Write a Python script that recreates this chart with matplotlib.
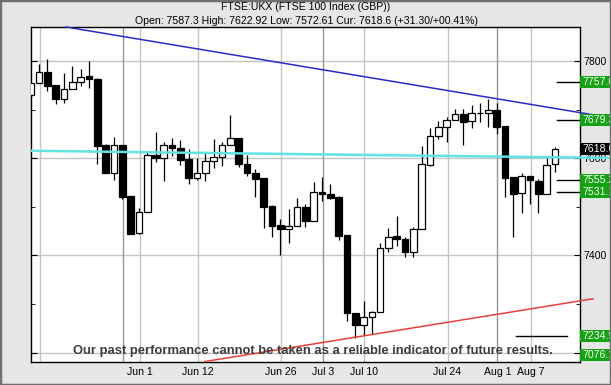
import matplotlib
matplotlib.use("Agg")
import matplotlib.pyplot as plt
from matplotlib.patches import Rectangle
from matplotlib.transforms import blended_transform_factory

plt.rcParams['font.family'] = ['Liberation Sans', 'DejaVu Sans']

# ---------------- data ----------------
opens = [7730, 7754, 7777, 7751, 7721, 7742, 7756, 7769, 7763, 7627, 7569, 7627, 7522, 7446, 7489, 7607,
         7600, 7627, 7622, 7598, 7560, 7569, 7594, 7603, 7627, 7641, 7588, 7570, 7559, 7502, 7463, 7454,
         7461, 7499, 7470, 7530, 7526, 7521, 7442, 7281, 7256, 7273, 7283, 7415, 7440, 7433, 7407, 7454,
         7586, 7646, 7664, 7679, 7690, 7676, 7692, 7692, 7699, 7666, 7561, 7528, 7564, 7554, 7526, 7587.3]
highs = [7757, 7794, 7804, 7751, 7775, 7790, 7783, 7800, 7765, 7629, 7643, 7628, 7523, 7497, 7614, 7653,
         7634, 7642, 7637, 7620, 7600, 7610, 7640, 7633, 7688, 7642, 7607, 7577, 7560, 7503, 7476, 7496,
         7518, 7506, 7552, 7562, 7547, 7522, 7443, 7282, 7306, 7286, 7425, 7456, 7481, 7437, 7459, 7625,
         7663, 7677, 7684, 7701, 7701, 7710, 7713, 7722, 7714, 7667, 7562, 7569, 7564, 7557, 7600, 7622.92]
lows = [7725, 7754, 7739, 7711, 7714, 7742, 7749, 7745, 7588, 7569, 7555, 7516, 7444, 7445, 7489, 7593,
        7553, 7605, 7586, 7546, 7555, 7553, 7580, 7583, 7627, 7581, 7564, 7520, 7457, 7439, 7401, 7426,
        7461, 7459, 7470, 7513, 7516, 7432, 7266, 7230, 7236, 7238, 7283, 7408, 7420, 7396, 7397, 7454,
        7584, 7639, 7633, 7679, 7627, 7662, 7675, 7665, 7649, 7521, 7437, 7487, 7505, 7487, 7526, 7572.61]
closes = [7754, 7777, 7749, 7721, 7742, 7756, 7768, 7762, 7626, 7569, 7627, 7521, 7444, 7489, 7607, 7600,
          7627, 7622, 7596, 7560, 7569, 7594, 7603, 7627, 7641, 7588, 7569, 7557, 7500, 7461, 7454, 7461,
          7499, 7470, 7530, 7526, 7519, 7440, 7281, 7256, 7273, 7283, 7415, 7439, 7433, 7407, 7454, 7588,
          7646, 7664, 7679, 7690, 7675, 7692, 7693, 7699, 7665, 7560, 7526, 7564, 7555, 7526, 7586, 7618.6]

date_labels = ["Jun 1", "Jun 12", "Jun 26", "Jul 3", "Jul 10", "Jul 24", "Aug 1", "Aug 7"]
date_index = [13, 20, 30, 35, 40, 50, 56, 60]
extra_grid_index = [1, 11]
dark_grid_index = [11, 35, 56]

y_ticks = [7200, 7400, 7600, 7800]
y_tick_labels = ["", "7400", "7600", "7800"]

# trend lines (index, price)
blue_line = ([4.24, 69.75], [7869.9, 7683.2])
red_line = ([20.95, 67.58], [7181.9, 7310.9])
cyan_line = ([0.036, 69.75], [7615.3, 7600.5])

# level markers
green_levels = [7757.0, 7679.3, 7555.2, 7531.1, 7234.9]
green_level_labels = ["7757.0", "7679.3", "7555.2", "7531.1", "7234.9"]
bottom_level_label = "7076.1"
current_level = 7618.6
current_label = "7618.6"

title1 = "FTSE:UKX (FTSE 100 Index (GBP))"
title2 = "Open: 7587.3 High: 7622.92 Low: 7572.61 Cur: 7618.6 (+31.30/+00.41%)"
disclaimer = "Our past performance cannot be taken as a reliable indicator of future results."

# ---------------- figure ----------------
W, H = 611, 385
fig = plt.figure(figsize=(W / 100, H / 100), dpi=100)
fig.patch.set_facecolor('#e6e6e6')
fig.patches.append(Rectangle((0, 0), 1, 1, transform=fig.transFigure, fill=False,
                             edgecolor='#707070', linewidth=2.5, zorder=0))

L, R, T, B = 31, 579.5, 27, 362
ax = fig.add_axes([L / W, 1 - B / H, (R - L) / W, (B - T) / H])
ax.set_facecolor('white')
ax.set_xlim(0.036, 65.96)
ax.set_ylim(7180.9, 7869.9)

# grid
for yv in y_ticks:
    ax.axhline(yv, color='#c4c4c4', lw=1, zorder=0.5)
for i in date_index + extra_grid_index:
    c = '#989898' if i in dark_grid_index else '#c4c4c4'
    ax.axvline(i + 0.1, color=c, lw=1, zorder=0.5)

# candles
bw = 0.8
for i, (o, h, l, c) in enumerate(zip(opens, highs, lows, closes)):
    ax.vlines(i, l, h, color='black', lw=0.9, zorder=2)
    bottom = min(o, c)
    height = max(abs(c - o), 0.6)
    fc = 'white' if c >= o else 'black'
    ax.add_patch(Rectangle((i - bw / 2, bottom), bw, height, facecolor=fc,
                           edgecolor='black', lw=0.9, zorder=3))

# trend lines
ax.plot(*cyan_line, color='#62e2e2', lw=1.8, zorder=4, clip_on=False, solid_capstyle='butt')
ax.plot(*blue_line, color='#2a2ac8', lw=1.1, zorder=4, clip_on=False)
ax.plot(*red_line, color='#e8413a', lw=1.1, zorder=4, clip_on=False)

# level marker lines
for lv in green_levels[:4]:
    ax.plot([63.26, 65.96], [lv, lv], color='black', lw=1, zorder=4, clip_on=False)
ax.plot([58.33, 64.46], [green_levels[4], green_levels[4]], color='black', lw=1, zorder=4)

# ticks
ax.set_yticks(y_ticks)
ax.set_yticklabels(y_tick_labels)
ax.set_yticks([7300, 7500, 7700], minor=True)
ax.yaxis.tick_right()
ax.tick_params(axis='y', which='major', direction='in', length=4, pad=2.5,
               labelsize=7.6, left=True, right=True, labelleft=False, labelright=True)
ax.tick_params(axis='y', which='minor', direction='in', length=3, left=True, right=True)
ax.set_xticks([i + 0.1 for i in date_index])
ax.set_xticklabels(date_labels)
ax.tick_params(axis='x', length=0, pad=3.5, labelsize=7.6)
for s in ax.spines.values():
    s.set_color('black')
    s.set_linewidth(1)

# label boxes on right
trans = blended_transform_factory(ax.transAxes, ax.transData)
box_x0 = (580 - L) / (R - L)
box_w = 0.08
box_h = 12 / ((B - T) / (7869.9 - 7180.9))
txt_x = (582 - L) / (R - L)


def level_box(y, text, fc):
    ax.add_patch(Rectangle((box_x0, y - box_h / 2), box_w, box_h, transform=trans,
                           facecolor=fc, edgecolor='none', clip_on=False, zorder=6))
    ax.text(txt_x, y, text, transform=trans, color='white', fontsize=7.6,
            ha='left', va='center', clip_on=False, zorder=7)


for lv, lab in zip(green_levels, green_level_labels):
    level_box(lv, lab, '#13a313')
level_box(7195.3, bottom_level_label, '#13a313')
level_box(current_level, current_label, 'black')

# titles
fig.text(0.5, 1 - 7.5 / H, title1, ha='center', va='center', fontsize=7.6)
fig.text(0.501, 1 - 20.5 / H, title2, ha='center', va='center', fontsize=7.6)
fig.text(312.7 / W, 1 - 350.7 / H, disclaimer, ha='center', va='center', fontsize=9.4,
         fontweight='bold', color='#3c3c3c', zorder=10)

fig.savefig('out.png', dpi=100, facecolor=fig.get_facecolor())
